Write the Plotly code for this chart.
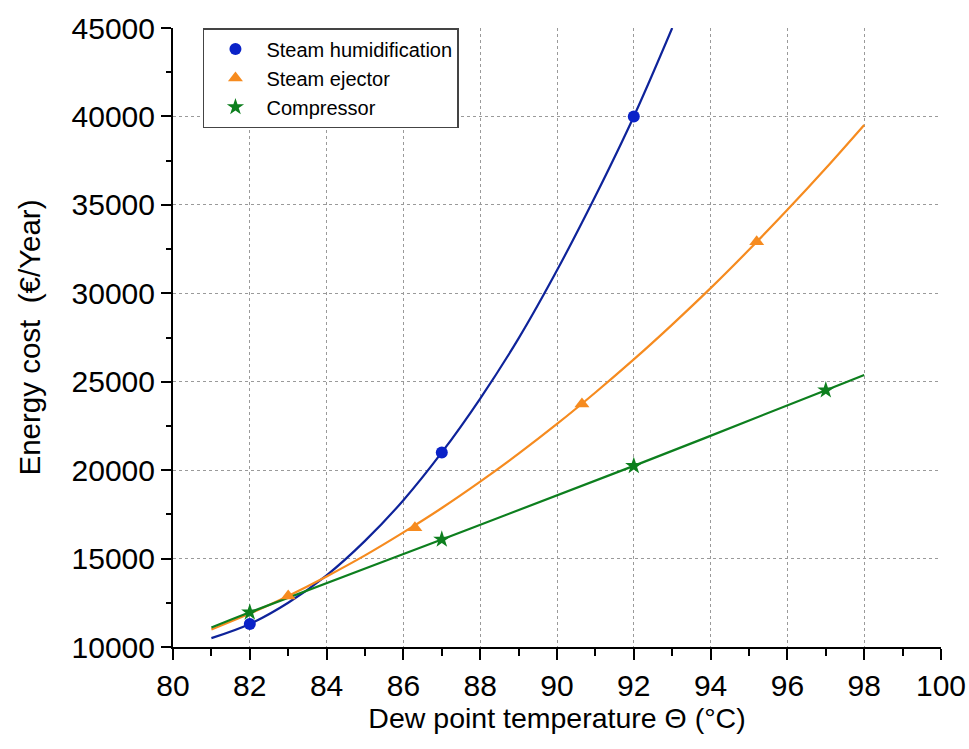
import plotly.graph_objects as go

# Curve samples
hum_x = [81, 82, 83, 84, 85, 86, 87, 88, 89, 90, 91, 92, 93]
hum_y = [10500, 11300, 12500, 14050, 16000, 18300, 21000, 24050, 27450, 31300, 35500, 40000, 45000]
hum_mx = [82, 87, 92]
hum_my = [11300, 21000, 40000]

ej_x = [81, 82, 83, 84, 85, 86, 87, 88, 89, 90, 91, 92, 93, 94, 95, 96, 97, 98]
ej_y = [10990, 11890, 12890, 13990, 15180, 16480, 17860, 19350, 20930, 22610, 24390, 26260, 28230, 30290, 32460, 34720, 37070, 39520]
ej_mx = [83, 86.3, 90.65, 95.2]
ej_my = [12880, 16740, 23740, 32920]

comp_x = [81, 82, 87, 92, 97, 98]
comp_y = [11100, 11960, 16080, 20240, 24520, 25380]
comp_mx = [82, 87, 92, 97]
comp_my = [11960, 16080, 20240, 24520]

x_ticks = list(range(80, 101, 2))
x_grid = list(range(82, 99, 2))
y_ticks = list(range(10000, 45001, 5000))
y_grid = list(range(15000, 40001, 5000))

BLUE_LINE = "#0e239a"
BLUE_MK = "#0a22c8"
ORANGE = "#f68b1f"
GREEN = "#0d7f1e"
FONT = "Arial, Liberation Sans, sans-serif"

fig = go.Figure()

# grid carrier (invisible)
fig.add_trace(go.Scatter(x=[None], y=[None], xaxis="x2", yaxis="y2",
                         showlegend=False, hoverinfo="skip"))

for xs, ys, c in [(hum_x, hum_y, BLUE_LINE), (ej_x, ej_y, ORANGE), (comp_x, comp_y, GREEN)]:
    fig.add_trace(go.Scatter(x=xs, y=ys, mode="lines", line=dict(color=c, width=2.2, shape="spline", smoothing=1.0),
                             showlegend=False, hoverinfo="skip", cliponaxis=True))

fig.add_trace(go.Scatter(x=hum_mx, y=hum_my, mode="markers", name="Steam humidification",
                         marker=dict(symbol="circle", size=12, color=BLUE_MK), cliponaxis=False))
fig.add_trace(go.Scatter(x=ej_mx, y=ej_my, mode="markers", name="Steam ejector",
                         marker=dict(symbol="triangle-up", size=13, color=ORANGE), cliponaxis=False))
fig.add_trace(go.Scatter(x=comp_mx, y=comp_my, mode="markers", name="Compressor",
                         marker=dict(symbol="star", size=13, color=GREEN), cliponaxis=False))

grid_common = dict(showgrid=True, gridcolor="#9a9a9a", griddash="dot", gridwidth=1,
                   showticklabels=False, ticks="", showline=False, zeroline=False)

fig.update_layout(
    width=969, height=749,
    margin=dict(l=173, r=28, t=28, b=102, autoexpand=False),
    paper_bgcolor="white", plot_bgcolor="white",
    font=dict(family=FONT, color="black"),
    xaxis=dict(range=[80, 100], tickvals=x_ticks, ticktext=[str(v) for v in x_ticks], automargin=False,
               showgrid=False, zeroline=False, showline=True, linecolor="black", linewidth=2,
               ticks="outside", ticklen=11, tickwidth=2, tickcolor="black",
               minor=dict(dtick=1, tick0=80, ticks="outside", ticklen=7, tickwidth=2, tickcolor="black"),
               tickfont=dict(size=30, family=FONT),
               title=dict(text="Dew point temperature \u0398 (\u00b0C)", font=dict(size=28.5, family=FONT), standoff=6)),
    yaxis=dict(range=[10000, 45000], tickvals=y_ticks, ticktext=[str(v) for v in y_ticks], automargin=False,
               showgrid=False, zeroline=False, showline=True, linecolor="black", linewidth=2,
               ticks="outside", ticklen=10, tickwidth=2, tickcolor="black",
               minor=dict(dtick=2500, tick0=10000, ticks="outside", ticklen=5, tickwidth=2, tickcolor="black"),
               tickfont=dict(size=30, family=FONT),
               title=dict(text="Energy cost  (\u20ac/Year)", font=dict(size=29.5, family=FONT), standoff=22)),
    xaxis2=dict(overlaying="x", range=[80, 100], tickvals=x_grid, **grid_common),
    yaxis2=dict(overlaying="y", range=[10000, 45000], tickvals=y_grid, **grid_common),
    legend=dict(x=0.039, y=1.0, xanchor="left", yanchor="top",
                bgcolor="white", bordercolor="#444", borderwidth=1.5,
                font=dict(size=20, family=FONT), itemwidth=52, tracegroupgap=0),
)

fig.write_html("out.html")
